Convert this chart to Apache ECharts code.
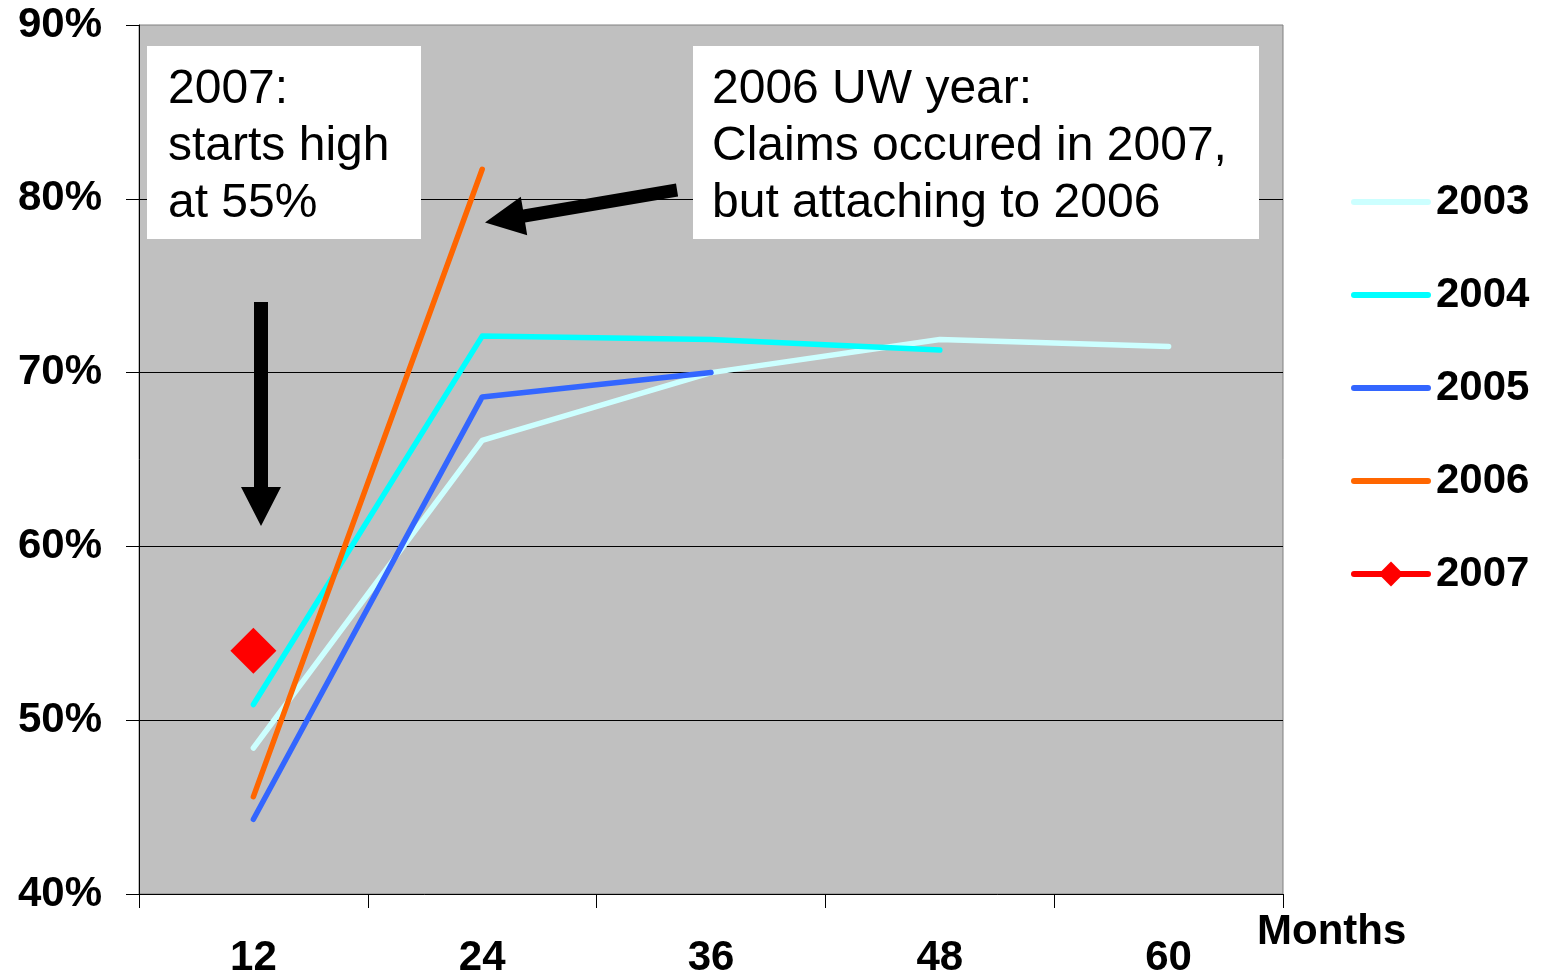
<!DOCTYPE html>
<html>
<head>
<meta charset="utf-8">
<script src="https://cdn.jsdelivr.net/npm/echarts@6/dist/echarts.min.js"></script>
<style>html,body{margin:0;padding:0;background:#fff}#c{width:1543px;height:975px}</style>
</head>
<body>
<div id="c"></div>
<script>
const categories = ['12', '24', '36', '48', '60'];
const s2003 = [48.4, 66.1, 70.0, 71.9, 71.5];
const s2004 = [50.9, 72.1, 71.9, 71.3, null];
const s2005 = [44.3, 68.6, 70.0, null, null];
const s2006 = [45.6, 81.7, null, null, null];
const s2007 = [54.0, null, null, null, null];
const seriesNames = ['2003', '2004', '2005', '2006', '2007'];
const yTicks = [40, 50, 60, 70, 80, 90];

const FONT = '"Liberation Sans", Arial, sans-serif';
const chart = echarts.init(document.getElementById('c'));

function lineSeries(name, data, color) {
  return {
    name: name, type: 'line', data: data, symbol: 'none',
    lineStyle: { color: color, width: 5.5, cap: 'round', join: 'round' },
    itemStyle: { color: color },
    connectNulls: false, animation: false
  };
}

chart.setOption({
  animation: false,
  backgroundColor: '#ffffff',
  grid: { left: 139, right: 260, top: 25, bottom: 81, show: true, containLabel: false,
          outerBoundsMode: 'none',
          backgroundColor: '#c0c0c0', borderColor: '#808080', borderWidth: 1 },
  xAxis: {
    type: 'category', data: categories, boundaryGap: true,
    name: 'Months', nameLocation: 'end', nameGap: -26,
    nameTextStyle: { fontFamily: FONT, fontSize: 42, fontWeight: 'bold', color: '#000',
                     align: 'left', verticalAlign: 'top', padding: [17, 0, 0, 0] },
    axisLine: { show: true, lineStyle: { color: '#000', width: 1 } },
    axisTick: { show: true, length: 14, alignWithLabel: false, lineStyle: { color: '#000' } },
    axisLabel: { margin: 43, fontFamily: FONT, fontSize: 42, fontWeight: 'bold', color: '#000' },
    splitLine: { show: false }
  },
  yAxis: {
    type: 'value', min: yTicks[0], max: yTicks[yTicks.length - 1], interval: 10,
    axisLine: { show: true, lineStyle: { color: '#000', width: 1 } },
    axisTick: { show: true, length: 13, lineStyle: { color: '#000' } },
    axisLabel: { margin: 37, fontFamily: FONT, fontSize: 42, fontWeight: 'bold', color: '#000',
                 padding: [6, 0, 0, 0], formatter: '{value}%' },
    splitLine: { show: true, showMaxLine: false, showMinLine: false, lineStyle: { color: '#000', width: 1 } }
  },
  legend: {
    orient: 'vertical', left: 1351, top: 181, padding: 0,
    itemWidth: 74, itemHeight: 31, itemGap: 51,
    lineStyle: { width: 6, cap: 'round' },
    data: [
      { name: seriesNames[0], itemStyle: { opacity: 0 } },
      { name: seriesNames[1], itemStyle: { opacity: 0 } },
      { name: seriesNames[2], itemStyle: { opacity: 0 } },
      { name: seriesNames[3], itemStyle: { opacity: 0 } },
      { name: seriesNames[4] }
    ],
    textStyle: { fontFamily: FONT, fontSize: 42, fontWeight: 'bold', color: '#000',
                 lineHeight: 42, padding: [0, 0, 0, 3] }
  },
  series: [
    lineSeries(seriesNames[0], s2003, '#ccffff'),
    lineSeries(seriesNames[1], s2004, '#00ffff'),
    lineSeries(seriesNames[2], s2005, '#3366ff'),
    lineSeries(seriesNames[3], s2006, '#ff6600'),
    {
      name: seriesNames[4], type: 'line', data: s2007,
      symbol: 'diamond', symbolSize: 46, showSymbol: true,
      lineStyle: { color: '#ff0000', width: 5.5, cap: 'round' },
      itemStyle: { color: '#ff0000' }
    }
  ],
  graphic: [
    { type: 'rect', z: 10, shape: { x: 147, y: 46, width: 274, height: 193 }, style: { fill: '#ffffff' } },
    { type: 'text', z: 11, x: 168, y: 61,
      style: { text: '2007:\nstarts high\nat 55%', fontFamily: FONT, fontSize: 48, lineHeight: 57,
               fill: '#000', align: 'left', verticalAlign: 'top' } },
    { type: 'rect', z: 10, shape: { x: 693, y: 46, width: 566, height: 193 }, style: { fill: '#ffffff' } },
    { type: 'text', z: 11, x: 712, y: 61,
      style: { text: '2006 UW year:\nClaims occured in 2007,\nbut attaching to 2006', fontFamily: FONT,
               fontSize: 48, lineHeight: 57, fill: '#000', align: 'left', verticalAlign: 'top' } },
    { type: 'polygon', z: 10,
      shape: { points: [[254, 302], [268, 302], [268, 487], [281, 487], [261, 526], [241, 487], [254, 487]] },
      style: { fill: '#000' } },
    { type: 'polygon', z: 10,
      shape: { points: [[676, 183.6], [523, 209.6], [520.8, 196.8], [485, 222.5], [527.2, 235.2], [525.1, 222.4], [678.1, 196.4]] },
      style: { fill: '#000' } }
  ]
});
</script>
</body>
</html>
